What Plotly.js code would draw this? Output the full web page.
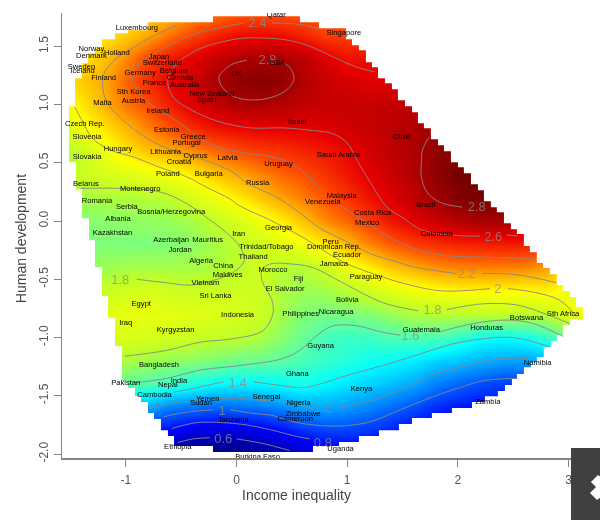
<!DOCTYPE html>
<html>
<head>
<meta charset="utf-8">
<script src="https://cdn.plot.ly/plotly-3.0.1.min.js"></script>
<style>
html,body{margin:0;padding:0;background:#fff}
#chart{width:600px;height:520px;filter:blur(0.35px)}
</style>
</head>
<body>
<div id="chart"></div>
<script>
var gridX = [-1.6,-1.4,-1.2,-1,-.8,-.6,-.4,-.2,0,.2,.4,.6,.8,1,1.2,1.4,1.6,1.8,2,2.2,2.4,2.6,2.8,3,3.2];
var gridY = [1.8,1.6,1.4,1.2,1,.8,.6,.4,.2,0,-.2,-.4,-.6,-.8,-1,-1.2,-1.4,-1.6,-1.8,-2];
var zRows = [
[1.9,1.95,2,2.05,2.1,2.15,2.22,2.28,2.33,2.36,2.36,2.35,2.35,2.35,2.4,2.4,2.4,2.4,2.4,2.4,2.4,2.4,2.4,2.4,2.4],
[1.95,2,2.05,2.12,2.2,2.31,2.41,2.49,2.56,2.58,2.56,2.5,2.42,2.42,2.45,2.45,2.45,2.45,2.45,2.45,2.45,2.45,2.45,2.45,2.45],
[2,2.05,2.14,2.26,2.41,2.53,2.61,2.69,2.76,2.79,2.79,2.73,2.63,2.55,2.56,2.56,2.56,2.56,2.56,2.56,2.56,2.56,2.56,2.56,2.56],
[2.05,2.12,2.2,2.34,2.47,2.61,2.68,2.78,2.86,2.89,2.85,2.76,2.7,2.66,2.62,2.62,2.62,2.62,2.62,2.62,2.62,2.62,2.62,2.62,2.62],
[1.92,2.05,2.18,2.3,2.39,2.52,2.63,2.71,2.77,2.78,2.75,2.72,2.7,2.7,2.7,2.71,2.73,2.75,2.75,2.75,2.75,2.75,2.75,2.75,2.75],
[1.85,1.97,2.06,2.17,2.28,2.38,2.47,2.55,2.58,2.6,2.61,2.61,2.63,2.67,2.7,2.73,2.77,2.82,2.85,2.85,2.85,2.85,2.85,2.85,2.85],
[1.75,1.83,1.95,2.06,2.14,2.19,2.26,2.33,2.39,2.43,2.46,2.5,2.54,2.58,2.66,2.72,2.78,2.85,2.9,2.9,2.9,2.9,2.9,2.9,2.9],
[1.78,1.84,1.87,1.9,1.94,1.98,2.04,2.13,2.2,2.27,2.34,2.39,2.46,2.54,2.62,2.69,2.77,2.86,2.93,2.96,2.96,2.96,2.96,2.96,2.96],
[1.72,1.75,1.76,1.77,1.78,1.8,1.87,1.95,2.03,2.12,2.21,2.29,2.37,2.45,2.55,2.63,2.72,2.81,2.9,2.92,2.92,2.92,2.92,2.92,2.92],
[1.66,1.68,1.69,1.7,1.71,1.72,1.75,1.81,1.87,1.95,2.03,2.14,2.26,2.34,2.43,2.54,2.62,2.69,2.75,2.79,2.8,2.8,2.8,2.8,2.8],
[1.62,1.63,1.67,1.66,1.66,1.67,1.7,1.75,1.8,1.85,1.91,1.97,2.05,2.16,2.27,2.36,2.43,2.47,2.5,2.51,2.52,2.52,2.5,2.5,2.5],
[1.7,1.72,1.73,1.75,1.75,1.75,1.75,1.77,1.79,1.85,1.78,1.78,1.84,1.95,2.03,2.13,2.19,2.25,2.27,2.28,2.28,2.27,2.22,2.1,2.1],
[1.8,1.82,1.83,1.86,1.88,1.85,1.84,1.84,1.85,1.84,1.77,1.73,1.74,1.78,1.85,1.91,1.95,1.98,2.01,2.01,2.01,2,2.03,1.97,1.9],
[1.88,1.9,1.92,1.93,1.93,1.92,1.91,1.9,1.88,1.85,1.75,1.67,1.65,1.66,1.68,1.72,1.77,1.79,1.79,1.81,1.81,1.8,1.81,1.92,2],
[1.86,1.87,1.87,1.88,1.87,1.85,1.83,1.81,1.8,1.76,1.69,1.62,1.54,1.52,1.52,1.56,1.56,1.56,1.5,1.42,1.4,1.42,1.5,1.62,1.7],
[1.75,1.75,1.75,1.76,1.73,1.71,1.69,1.66,1.63,1.62,1.59,1.55,1.51,1.48,1.43,1.4,1.36,1.3,1.26,1.22,1.19,1.18,1.2,1.25,1.3],
[1.62,1.6,1.6,1.6,1.57,1.52,1.46,1.41,1.38,1.39,1.41,1.44,1.39,1.34,1.3,1.25,1.2,1.1,1.04,.98,.94,.92,.9,.9,.9],
[1.4,1.35,1.3,1.25,1.2,1.11,1.07,1.04,1.06,1.08,1.13,1.19,1.2,1.17,1.12,1.06,.98,.9,.85,.82,.8,.8,.8,.8,.8],
[1,.95,.9,.88,.85,.8,.73,.7,.71,.75,.81,.9,.95,.95,.92,.86,.8,.76,.75,.75,.75,.75,.75,.75,.75],
[.7,.68,.65,.62,.55,.5,.46,.44,.45,.5,.57,.66,.72,.74,.72,.7,.68,.66,.65,.65,.65,.65,.65,.65,.65]
];
var colorLevels = [.4,.6,.8,1,1.2,1.4,1.6,1.8,2,2.2,2.4,2.6,2.8,3];
var colorValues = ['rgb(0,0,110)','rgb(0,0,175)','rgb(0,0,255)','rgb(0,85,255)','rgb(0,170,255)','rgb(0,255,255)','rgb(95,255,160)','rgb(190,255,40)','rgb(255,255,0)','rgb(255,170,0)','rgb(255,70,0)','rgb(232,0,0)','rgb(165,0,0)','rgb(95,0,0)'];

var edgeX = [-.212,-.799,-.98,-1.097,-1.215,-1.278,-1.341,-1.395,-1.458,-1.513,-1.449,-1.395,-1.332,-1.278,-1.215,-1.16,-1.097,-1.034,-.98,-.917,-.862,-.799,-.745,-.682,-.619,-.564,-.212,.691,.926,1.106,1.287,1.467,1.585,1.765,1.946,2.127,2.244,2.361,2.425,2.488,2.533,2.596,2.659,2.713,2.776,2.84,2.894,2.948,3.011,3.129,3.066,3.011,2.948,2.894,2.831,2.768,2.713,2.65,2.596,2.533,2.479,2.416,2.352,2.298,2.235,2.181,2.118,2.054,2,1.937,1.874,1.82,1.756,1.693,1.639,1.585,1.522,1.458,1.404,1.341,1.278,1.224,1.169,1.106,1.043,.989,.745,.573,-.212];
var edgeY = [1.758,1.707,1.638,1.612,1.561,1.483,1.44,1.355,1.226,.986,.505,.274,.025,-.164,-.396,-.644,-.833,-1.073,-1.374,-1.434,-1.503,-1.554,-1.648,-1.7,-1.795,-1.846,-1.932,-1.983,-1.932,-1.897,-1.846,-1.795,-1.743,-1.691,-1.648,-1.605,-1.554,-1.503,-1.459,-1.408,-1.356,-1.313,-1.254,-1.211,-1.168,-1.082,-1.03,-.979,-.893,-.842,-.739,-.653,-.601,-.55,-.456,-.404,-.361,-.267,-.215,-.112,-.07,-.018,.076,.119,.171,.265,.317,.411,.462,.505,.6,.651,.703,.797,.84,.934,.986,1.037,1.132,1.183,1.226,1.32,1.363,1.466,1.509,1.561,1.655,1.707,1.758];

var lineGroups = {
 l28a: [[.09,-.03,-.12,-.16,-.12,0,.19,.37,.48,.52,.48,.42],[1.38,1.35,1.29,1.23,1.14,1.06,1.04,1.08,1.15,1.23,1.32,1.36]],
 l28b: [[1.74,1.68,1.67,1.67,1.72,1.84,2.04],[.72,.61,.5,.38,.25,.16,.12]],
 l26: [[1.25,1.09,.87,.69,.48,.28,.06,-.12,-.33,-.54,-.62,-.57,-.4,-.18,.12,.42,.66,.87,1,1.09,1.21,1.36,1.5,1.68,1.93,2.2,null,2.44,2.54],[1.28,1.32,1.41,1.49,1.55,1.57,1.57,1.54,1.48,1.35,1.21,1.06,.95,.86,.8,.8,.78,.75,.67,.52,.33,.12,.03,-.08,-.12,-.13,null,-.12,-.13]],
 l24: [[.06,-.15,-.33,-.45,-.66,-.84,-.94,-.93,-.84,-.72,-.51,-.33,-.15,.12,.37,.55,.73,.93,1.14,1.48,1.84,2.26,2.68,null,.32,.55,.75],[1.7,1.66,1.62,1.58,1.48,1.38,1.28,1.19,1.05,.97,.84,.71,.63,.58,.54,.46,.31,.14,.01,-.19,-.29,-.31,-.32,null,1.7,1.69,1.65]],
 l22: [[-.54,-.75,-.93,-1.08,-1.19,-1.21,-1.17,-1.03,-.87,-.69,-.45,-.28,-.03,.09,.37,.6,.75,.96,1.21,1.41,1.63,1.99,null,2.22,2.53,2.89],[1.68,1.59,1.49,1.4,1.28,1.17,1.02,.87,.75,.65,.57,.52,.42,.33,.2,.05,-.06,-.16,-.28,-.34,-.4,-.45,null,-.45,-.46,-.53]],
 l20: [[-1.46,-1.4,-1.3,-1.14,-.93,-.69,-.45,-.27,-.06,.03,.3,.6,.96,1.32,1.57,1.86,2.29,null,2.45,2.68,2.92,3.07],[.98,.87,.71,.61,.55,.46,.38,.29,.19,.13,.01,-.14,-.35,-.48,-.55,-.6,-.58,null,-.58,-.61,-.68,-.82]],
 l18a: [[-1.41,-1.05,-.69,-.45,-.27,-.09,.03,.07,-.03,-.21,-.42,-.63,-.9],[.28,.28,.25,.15,.03,-.1,-.22,-.34,-.44,-.51,-.55,-.53,-.5]],
 l18b: [[-1.01,-.63,-.33,-.03,.24,.33,.32,.23,.23,.3,.51,.69,.96,1.32,1.64,null,1.9,2.23,2.53,2.77,3.01],[-1.16,-1.11,-1.04,-1.01,-.94,-.79,-.68,-.51,-.42,-.37,-.37,-.4,-.53,-.7,-.77,null,-.76,-.71,-.72,-.79,-.88]],
 l16: [[-.93,-.63,-.33,.03,.42,.57,.73,.87,1.09,1.3,1.48,null,1.84,2.14,2.44,2.68,2.95],[-1.39,-1.35,-1.28,-1.24,-1.18,-1.11,-.98,-.9,-.9,-.95,-.98,null,-.95,-.88,-.85,-.88,-.99]],
 l14: [[-.57,-.36,-.12,null,.15,.39,.6,.75,1.02,1.32,1.63,1.93,2.23,2.5,2.83],[-1.47,-1.43,-1.38,null,-1.38,-1.41,-1.43,-1.4,-1.32,-1.24,-1.15,-1.06,-1.01,-1,-1.08]],
 l12: [[-.78,-.57,-.36,-.06,.24,.48,.69,null,.92,1.18,1.48,1.77,2.08,2.38,2.62],[-1.61,-1.56,-1.54,-1.52,-1.54,-1.56,-1.61,null,-1.6,-1.55,-1.45,-1.32,-1.24,-1.18,-1.18]],
 l10: [[-.66,-.45,-.21,null,-.06,.15,.33,.55,.87,1.18,1.48,1.77,2.08,2.23,2.53],[-1.68,-1.64,-1.62,null,-1.62,-1.65,-1.67,-1.73,-1.76,-1.73,-1.62,-1.51,-1.41,-1.37,-1.35]],
 l08: [[-.58,-.36,-.12,.09,.3,.55,.66],[-1.78,-1.73,-1.73,-1.75,-1.79,-1.85,-1.87]],
 l06: [[-.53,-.39,-.24,null,0,.24,.48],[-1.9,-1.87,-1.86,null,-1.87,-1.91,-1.97]]
};

var levelText = ['2.8','2.4','2.8','2.6','2.2','2','1.8','1.8','1.6','1.4','1.2','1','0.8','0.6'];
var levelX = [.28,.19,2.17,2.32,2.08,2.36,1.77,-1.05,1.57,.01,.78,-.13,.78,-.12];
var levelY = [1.38,1.69,.11,-.14,-.46,-.59,-.77,-.51,-.99,-1.4,-1.61,-1.64,-1.91,-1.88];

var countries = ['Qatar','Luxembourg','Norway','Denmark','Holland','Japan','Switzerland','Sweden','Iceland','Germany','Belgium','Canada','Finland','France','Australia','Sth Korea','UK','USA','New Zealand','Spain','Austria','Malta','Ireland','Israel','Singapore','Chile','Czech Rep.','Estonia','Greece','Portugal','Slovenia','Hungary','Lithuania','Cyprus','Latvia','Slovakia','Croatia','Uruguay','Saudi Arabia','Poland','Bulgaria','Russia','Belarus','Montenegro','Romania','Serbia','Bosnia/Herzegovina','Albania','Kazakhstan','Azerbaijan','Mauritius','Iran','Georgia','Trinidad/Tobago','Jordan','Thailand','Algeria','China','Maldives','Morocco','Fiji','Vietnam','Sri Lanka','El Salvador','Indonesia','Philippines','Nicaragua','Bolivia','Paraguay','Jamaica','Ecuador','Dominican Rep.','Peru','Mexico','Costa Rica','Malaysia','Venezuela','Brazil','Colombia','Egypt','Iraq','Kyrgyzstan','Guatemala','Honduras','Botswana','Sth Africa','Namibia','Guyana','Bangladesh','Pakistan','India','Nepal','Ghana','Kenya','Cambodia','Yemen','Sudan','Senegal','Nigeria','Zimbabwe','Cameroon','Tanzania','Zambia','Ethiopia','Burkina Faso','Uganda'];
var inequality = [.36,-.9,-1.31,-1.31,-1.08,-.7,-.67,-1.4,-1.39,-.87,-.57,-.51,-1.2,-.74,-.47,-.93,0,.37,-.22,-.27,-.93,-1.21,-.71,.55,.97,1.49,-1.37,-.63,-.39,-.45,-1.35,-1.07,-.64,-.37,-.08,-1.35,-.52,.38,.92,-.62,-.25,.19,-1.36,-.87,-1.26,-.99,-.59,-1.07,-1.12,-.59,-.26,.02,.38,.27,-.51,.15,-.32,-.12,-.08,.33,.56,-.28,-.19,.44,.01,.58,.9,1,1.17,.88,1,.88,.85,1.18,1.23,.95,.78,1.71,1.81,-.86,-1,-.55,1.67,2.26,2.62,2.95,2.72,.76,-.7,-1,-.52,-.62,.55,1.13,-.74,-.26,-.32,.27,.56,.6,.53,-.03,2.27,-.53,.19,.94];
var development = [1.77,1.66,1.48,1.42,1.44,1.41,1.36,1.32,1.29,1.27,1.29,1.23,1.23,1.18,1.17,1.11,1.26,1.36,1.09,1.04,1.03,1.01,.94,.85,1.61,.72,.83,.78,.72,.67,.72,.62,.59,.56,.54,.55,.51,.49,.57,.4,.4,.33,.32,.27,.17,.12,.08,.02,-.1,-.16,-.16,-.11,-.06,-.22,-.25,-.31,-.34,-.39,-.46,-.42,-.5,-.53,-.64,-.58,-.81,-.8,-.78,-.68,-.48,-.37,-.29,-.22,-.18,-.02,.07,.21,.16,.14,-.11,-.71,-.88,-.94,-.94,-.92,-.83,-.8,-1.22,-1.07,-1.24,-1.39,-1.37,-1.41,-1.31,-1.44,-1.49,-1.53,-1.56,-1.51,-1.56,-1.66,-1.7,-1.71,-1.55,-1.94,-2.03,-1.96];

var xTicks = [-1,0,1,2,3];
var xTickText = ['-1','0','1','2','3'];
var yTicks = [-2,-1.5,-1,-.5,0,.5,1,1.5];
var yTickText = ['-2.0','-1.5','-1.0','-0.5','0.0','0.5','1.0','1.5'];
var xRange = [-1.576,3.148];
var yRange = [-2.034,1.786];

var FONT = '"Liberation Sans", Arial, sans-serif';
var span = colorLevels[colorLevels.length-1]-colorLevels[0];
var scale = colorLevels.map(function(v,i){return [(v-colorLevels[0])/span, colorValues[i]];});

var maskX = [xRange[0],xRange[1],xRange[1],xRange[0],xRange[0],edgeX[0]].concat(edgeX,[edgeX[0],xRange[0]]);
var maskY = [yRange[1],yRange[1],yRange[0],yRange[0],yRange[1],yRange[1]].concat(edgeY,[yRange[1],yRange[1]]);

var traces = [
 {type:'heatmap',x:gridX,y:gridY,z:zRows,zsmooth:'best',colorscale:scale,zmin:colorLevels[0],zmax:colorLevels[colorLevels.length-1],showscale:false,hoverinfo:'skip'},
 {type:'scatter',mode:'lines',x:maskX,y:maskY,fill:'toself',fillcolor:'#ffffff',line:{shape:'vh',width:0,color:'#ffffff',simplify:false},hoverinfo:'skip',showlegend:false}
];
Object.keys(lineGroups).forEach(function(k){
 traces.push({type:'scatter',mode:'lines',name:k,x:lineGroups[k][0],y:lineGroups[k][1],line:{color:'rgba(135,135,135,0.9)',width:1,shape:'spline',smoothing:1},hoverinfo:'skip',showlegend:false});
});
traces.push({type:'scatter',mode:'text',x:levelX,y:levelY,text:levelText,textposition:'middle center',textfont:{family:FONT,size:13,color:'rgba(140,140,140,0.75)'},hoverinfo:'skip',showlegend:false});
traces.push({type:'scatter',mode:'text',x:inequality,y:development,text:countries,textposition:'middle center',textfont:{family:FONT,size:7.6,color:'#000000'},showlegend:false});

var axisBase = {showgrid:false,zeroline:false,showline:true,linecolor:'#858585',linewidth:1.5,ticks:'outside',ticklen:7,tickwidth:1,tickcolor:'#858585',tickfont:{family:FONT,size:12,color:'#555'},layer:'above traces',fixedrange:true};
var layout = {
 width:600,height:520,autosize:false,showlegend:false,
 margin:{l:62,r:15,t:13,b:62,pad:0},
 paper_bgcolor:'#fff',plot_bgcolor:'#fff',
 xaxis:Object.assign({},axisBase,{range:xRange,tickmode:'array',tickvals:xTicks,ticktext:xTickText,ticklabelstandoff:3}),
 yaxis:Object.assign({},axisBase,{range:yRange,tickmode:'array',tickvals:yTicks,ticktext:yTickText,tickangle:-90,ticklabelstandoff:1}),
 annotations:[
  {text:'Income inequality',xref:'paper',yref:'paper',x:.449,y:-.0831,xanchor:'center',yanchor:'middle',showarrow:false,font:{family:FONT,size:14,color:'#444'}},
  {text:'Human development',xref:'paper',yref:'paper',x:-.0784,y:.494,xanchor:'center',yanchor:'middle',textangle:-90,showarrow:false,font:{family:FONT,size:14,color:'#444'}}
 ],
 shapes:[
  {type:'rect',xref:'paper',yref:'paper',x0:.9732,x1:1.0287,y0:-.1393,y1:.0225,fillcolor:'#404040',line:{width:0},layer:'above'},
  {type:'path',xref:'paper',yref:'paper',path:'M1.0114,-.0539 L1.0249,-.0382 L1.0422,-.0539 L1.0249,-.0697 Z',fillcolor:'#fff',line:{width:0},layer:'above'},
  {type:'path',xref:'paper',yref:'paper',path:'M1.0095,-.0787 L1.023,-.0629 L1.0402,-.0787 L1.023,-.0944 Z',fillcolor:'#fff',line:{width:0},layer:'above'}
 ]
};
Plotly.newPlot('chart',traces,layout,{displayModeBar:false,staticPlot:true});
</script>
</body>
</html>
